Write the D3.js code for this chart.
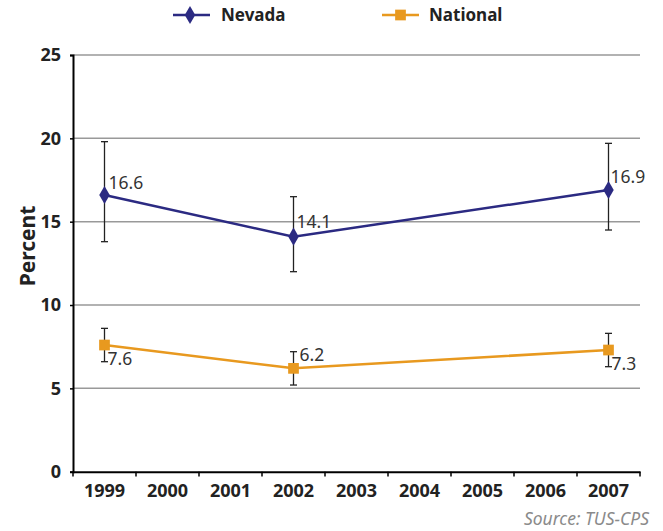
<!DOCTYPE html>
<html><head><meta charset="utf-8">
<script src="https://cdn.jsdelivr.net/npm/d3@7"></script>
<style>body{margin:0;background:#fff;} svg{display:block;}</style>
</head><body>
<svg id="chart" width="663" height="531"></svg>
<script>
const years = ["1999","2000","2001","2002","2003","2004","2005","2006","2007"];
const yTicks = [0,5,10,15,20,25];
const nevadaYears = ["1999","2002","2007"];
const nevadaValues = [16.6,14.1,16.9];
const nevadaHigh = [19.8,16.5,19.7];
const nevadaLow = [13.8,12.0,14.5];
const nationalYears = ["1999","2002","2007"];
const nationalValues = [7.6,6.2,7.3];
const nationalHigh = [8.6,7.2,8.3];
const nationalLow = [6.6,5.2,6.3];

const svg = d3.select("#chart");
const font = "'Noto Sans', 'Open Sans', sans-serif";
const x = d3.scaleBand().domain(years).range([73,640]);
const y = d3.scaleLinear().domain([0,25]).range([471.7,55]);
const cx = d => x(d) + x.bandwidth()/2;

// gridlines
svg.append("g").selectAll("line").data(yTicks.filter(t=>t>0)).join("line")
  .attr("x1",73).attr("x2",640).attr("y1",d=>y(d)).attr("y2",d=>y(d))
  .attr("stroke","#999").attr("stroke-width",1.5);

// y axis
const ya = svg.append("g").attr("transform","translate(73,0)")
  .call(d3.axisLeft(y).tickValues(yTicks).tickSize(3).tickPadding(9));
ya.select(".domain").attr("stroke","#000").attr("stroke-width",2);
ya.selectAll(".tick line").attr("stroke","#000").attr("stroke-width",1.5);
ya.selectAll("text").attr("font-family",font).attr("font-weight","bold").attr("font-size",18).attr("fill","#222");

// x axis
const xa = svg.append("g").attr("transform","translate(0,471.7)")
  .call(d3.axisBottom(x).tickSize(0).tickPadding(13));
xa.select(".domain").attr("stroke","#000").attr("stroke-width",2);
xa.selectAll(".tick line").remove();
xa.selectAll("text").attr("font-family",font).attr("font-weight","bold").attr("font-size",18).attr("fill","#222");
// x boundary ticks
const bounds = years.map(d=>x(d)).concat([x(years[years.length-1])+x.bandwidth()]);
svg.append("g").selectAll("line").data(bounds).join("line")
  .attr("x1",d=>d).attr("x2",d=>d).attr("y1",471.7).attr("y2",476.5)
  .attr("stroke","#000").attr("stroke-width",1.5);

// y label
svg.append("text").attr("transform","translate(35,246) rotate(-90)")
  .attr("text-anchor","middle").attr("font-family",font).attr("font-weight","bold")
  .attr("font-size",21).attr("fill","#222").text("Percent");

function series(yrs, vals, hi, lo, color, shape, labelOffsets){
  const data = yrs.map((d,i)=>({yr:d, v:vals[i], hi:hi[i], lo:lo[i], off:labelOffsets[i]}));
  const eb = svg.append("g").attr("stroke","#222").attr("stroke-width",1.3);
  data.forEach(d=>{
    eb.append("line").attr("x1",cx(d.yr)).attr("x2",cx(d.yr)).attr("y1",y(d.hi)).attr("y2",y(d.lo));
    eb.append("line").attr("x1",cx(d.yr)-3.5).attr("x2",cx(d.yr)+3.5).attr("y1",y(d.hi)).attr("y2",y(d.hi));
    eb.append("line").attr("x1",cx(d.yr)-3.5).attr("x2",cx(d.yr)+3.5).attr("y1",y(d.lo)).attr("y2",y(d.lo));
  });
  svg.append("path").datum(data)
    .attr("d", d3.line().x(d=>cx(d.yr)).y(d=>y(d.v)))
    .attr("fill","none").attr("stroke",color).attr("stroke-width",2.5);
  svg.append("g").selectAll("path").data(data).join("path")
    .attr("transform",d=>`translate(${cx(d.yr)},${y(d.v)})`)
    .attr("d", d3.symbol().type(shape).size(shape===d3.symbolDiamond?95:115))
    .attr("fill",color);
  svg.append("g").selectAll("text").data(data).join("text")
    .attr("x",d=>cx(d.yr)+d.off[0]).attr("y",d=>y(d.v)+d.off[1])
    .attr("font-family",font).attr("font-size",17.5).attr("fill","#333")
    .text(d=>d.v.toFixed(1));
}

const navy = "#2b2a82", orange = "#e8991f";
series(nevadaYears, nevadaValues, nevadaHigh, nevadaLow, navy, d3.symbolDiamond, [[4,-6],[3,-9],[2,-7]]);
series(nationalYears, nationalValues, nationalHigh, nationalLow, orange, d3.symbolSquare, [[3,20],[6,-7],[3,20]]);

// legend
const lg = svg.append("g");
lg.append("line").attr("x1",173).attr("x2",210).attr("y1",15).attr("y2",15).attr("stroke",navy).attr("stroke-width",2.5);
lg.append("path").attr("transform","translate(190,15)").attr("d",d3.symbol().type(d3.symbolDiamond).size(95)).attr("fill",navy);
lg.append("text").attr("x",221).attr("y",21).attr("font-family",font).attr("font-weight","bold").attr("font-size",17).attr("fill","#222").text("Nevada");
lg.append("line").attr("x1",382).attr("x2",419).attr("y1",15).attr("y2",15).attr("stroke",orange).attr("stroke-width",2.5);
lg.append("path").attr("transform","translate(400.5,15)").attr("d",d3.symbol().type(d3.symbolSquare).size(115)).attr("fill",orange);
lg.append("text").attr("x",429).attr("y",21).attr("font-family",font).attr("font-weight","bold").attr("font-size",17).attr("fill","#222").text("National");

// source
svg.append("text").attr("x",649).attr("y",525).attr("text-anchor","end")
  .attr("font-family",font).attr("font-style","italic").attr("font-size",17.5).attr("fill","#8a8a8a")
  .text("Source: TUS-CPS");
</script>
</body></html>
